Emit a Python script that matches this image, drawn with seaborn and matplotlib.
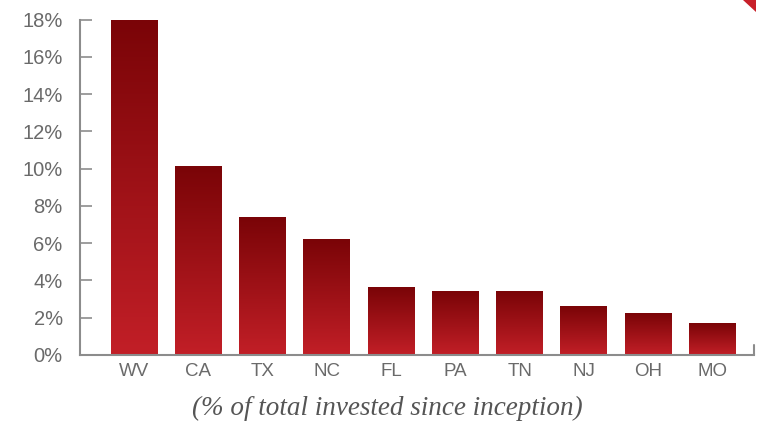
import numpy as np
import pandas as pd
import matplotlib
matplotlib.use("Agg")
import matplotlib.pyplot as plt
import seaborn as sns
from matplotlib.colors import LinearSegmentedColormap
from matplotlib.patches import Polygon

states = ["WV", "CA", "TX", "NC", "FL", "PA", "TN", "NJ", "OH", "MO"]
pct = [18.0, 10.1, 7.4, 6.2, 3.6, 3.4, 3.4, 2.6, 2.2, 1.7]
yticks = [0, 2, 4, 6, 8, 10, 12, 14, 16, 18]
caption = "(% of total invested since inception)"

df = pd.DataFrame({"state": states, "pct": pct})

sns.set_style("white")
plt.rcParams["font.family"] = ["Liberation Sans", "DejaVu Sans"]

W, H = 763, 426
fig = plt.figure(figsize=(W / 100, H / 100), dpi=100)
ax = fig.add_axes([80 / W, (H - 355) / H, (754 - 80) / W, (355 - 19.5) / H])

sns.barplot(data=df, x="state", y="pct", ax=ax, width=0.73, color="#a01018",
            edgecolor="none", linewidth=0)

cmap = LinearSegmentedColormap.from_list("redgrad", ["#c21f27", "#7a0407"])
grad = np.linspace(0, 1, 256).reshape(-1, 1)
for p in ax.patches:
    x0, y0 = p.get_x(), p.get_y()
    w, h = p.get_width(), p.get_height()
    p.set_facecolor("none")
    ax.imshow(grad, cmap=cmap, aspect="auto", origin="lower",
              extent=[x0, x0 + w, y0, y0 + h], zorder=2, interpolation="bilinear")

ax.set_xlim(-0.84, 9.646)
ax.set_ylim(0, 18)
ax.set_yticks(yticks)
ax.set_yticklabels([f"{v}%" for v in yticks])
ax.set_xlabel("")
ax.set_ylabel("")

for s in ["top", "right"]:
    ax.spines[s].set_visible(False)
for s in ["left", "bottom"]:
    ax.spines[s].set_color("#8c8c8c")
    ax.spines[s].set_linewidth(1.5)
    ax.spines[s].set_zorder(3)

ax.tick_params(axis="y", direction="in", length=8.6, width=1.2, color="#8c8c8c",
               labelsize=14.5, labelcolor="#6a6a6a", pad=12.5)
ax.tick_params(axis="x", length=0, labelsize=13.5, labelcolor="#6a6a6a", pad=6)
ax.tick_params(axis="y", left=True)

# small end tick at the right end of the baseline
ax.plot([1, 1], [0, 0.03], transform=ax.transAxes, color="#8c8c8c", lw=1.5,
        clip_on=False, zorder=3)

fig.text(387 / W, 1 - 408 / H, caption, ha="center", va="center",
         fontsize=19.5, style="italic", color="#555555",
         family=["Liberation Serif", "DejaVu Serif"])

tri = Polygon([[743 / W, 1.0], [756 / W, 1.0], [756 / W, 1 - 12 / H]],
              closed=True, transform=fig.transFigure, facecolor="#c8202a",
              edgecolor="none")
fig.patches.append(tri)

fig.savefig("out.png", dpi=100)
